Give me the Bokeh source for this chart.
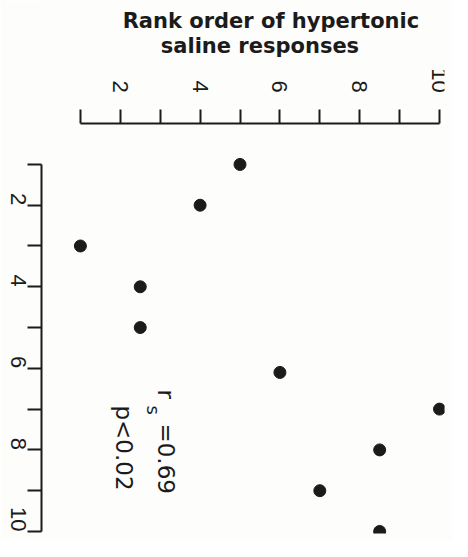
import math
from bokeh.plotting import figure
from bokeh.models import Range1d, FixedTicker, Label, LinearAxis
from bokeh.embed import file_html
from bokeh.resources import INLINE

# data (chart is drawn rotated 90 degrees clockwise, as in the reference)
saline_rank = [5, 4, 1, 2.5, 2.5, 6, 10, 8.5, 7, 8.5]        # top axis
subject_rank = [1, 2, 3, 4, 5, 6.1, 7, 8, 9, 10]            # left axis
tick_values = [1, 2, 3, 4, 5, 6, 7, 8, 9, 10]
tick_labels = {1: "", 2: "2", 3: "", 4: "4", 5: "", 6: "6", 7: "", 8: "8", 9: "", 10: "10"}
title_lines = ["Rank order of hypertonic", "saline responses"]
stat_r = "=0.69"
stat_p = "p<0.02"

INK = "#1b1b1b"
BG = "#fdfdfb"

p = figure(width=452, height=541, output_backend="svg", toolbar_location=None,
           x_axis_location=None,
           x_range=Range1d(0.025, 10.125), y_range=Range1d(10.05, -3.02),
           min_border_left=40, min_border_top=0, min_border_right=8, min_border_bottom=8,
           background_fill_color=BG, border_fill_color=BG)
p.outline_line_color = None
p.grid.visible = False

top_axis = LinearAxis(fixed_location=0)
p.add_layout(top_axis, "above")

for ax in (top_axis, p.yaxis[0]):
    ax.ticker = FixedTicker(ticks=tick_values)
    ax.bounds = (1, 10)
    ax.major_label_overrides = tick_labels
    ax.minor_tick_line_color = None
    ax.axis_line_width = 2
    ax.axis_line_color = INK
    ax.major_tick_line_width = 2
    ax.major_tick_line_color = INK
    ax.major_tick_in = 0
    ax.major_tick_out = 14
    ax.major_label_orientation = -math.pi / 2
    ax.major_label_text_font = "Liberation Sans"
    ax.major_label_text_font_size = "22px"
    ax.major_label_text_color = INK

top_axis.major_label_standoff = 17
p.yaxis[0].major_label_standoff = 9

p.scatter(saline_rank, subject_rank, size=12, color=INK)

# two-line title of the top axis
for txt, tx, ty in ((title_lines[0], 5.775, -2.507), (title_lines[1], 5.5, -1.894)):
    p.add_layout(Label(x=tx, y=ty, text=txt, text_align="center",
                       text_baseline="alphabetic", text_font="DejaVu Sans",
                       text_font_size="21px", text_font_style="bold", text_color=INK))

rot = -math.pi / 2
p.add_layout(Label(x=3.14, y=6.517, text="r", angle=rot, text_align="left",
                   text_baseline="alphabetic", text_font="DejaVu Sans",
                   text_font_size="23px", text_color=INK))
p.add_layout(Label(x=2.84, y=6.91, text="s", angle=rot, text_align="left",
                   text_baseline="alphabetic", text_font="DejaVu Sans",
                   text_font_size="18px", text_color=INK))
p.add_layout(Label(x=3.14, y=7.351, text=stat_r, angle=rot, text_align="left",
                   text_baseline="alphabetic", text_font="DejaVu Sans",
                   text_font_size="23px", text_color=INK))
p.add_layout(Label(x=2.09, y=6.91, text=stat_p, angle=rot, text_align="left",
                   text_baseline="alphabetic", text_font="DejaVu Sans",
                   text_font_size="23px", text_color=INK))

open("out.html", "w").write(file_html(p, INLINE))
